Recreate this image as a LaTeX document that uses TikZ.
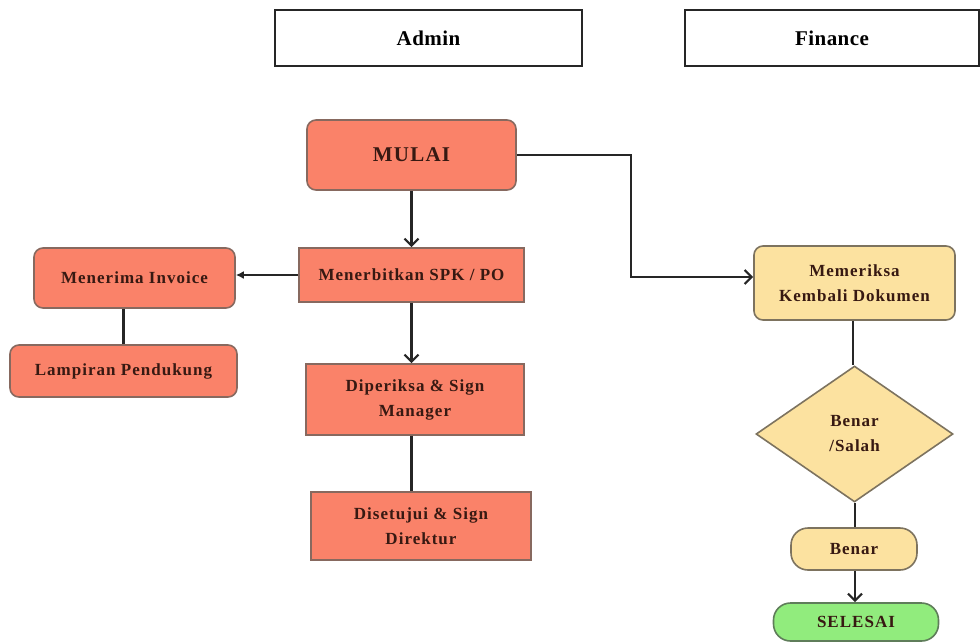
\documentclass[tikz,border=0pt]{standalone}
\usepackage{fontspec}
\setmainfont{Liberation Serif}[LetterSpace=6]
\newfontfamily\headfont{Liberation Serif}[LetterSpace=2]
\usetikzlibrary{shapes.geometric,arrows.meta}
\definecolor{salmon}{RGB}{250,130,105}
\definecolor{salmonedge}{RGB}{135,105,95}
\definecolor{sand}{RGB}{252,226,160}
\definecolor{sandedge}{RGB}{125,115,95}
\definecolor{mint}{RGB}{145,236,125}
\definecolor{mintedge}{RGB}{95,125,90}
\definecolor{ink}{RGB}{55,25,18}
\tikzset{
  every node/.style={font=\bfseries\fontsize{17}{25}\selectfont, text=ink, align=center, inner sep=0pt},
  header/.style={draw=black!85, line width=1.8pt, fill=white, text=black, font=\headfont\bfseries\fontsize{21}{24}\selectfont},
  sbox/.style={draw=salmonedge, line width=1.6pt, fill=salmon},
  srnd/.style={sbox, rounded corners=9pt},
  ybox/.style={draw=sandedge, line width=1.6pt, fill=sand, rounded corners=9pt},
  ydia/.style={draw=sandedge, line width=1.6pt, fill=sand, diamond},
  pill/.style={rounded corners=17pt, line width=1.6pt},
  link/.style={draw=black!85, line width=2.2pt},
  arr/.style={link, -{Straight Barb[length=7pt,width=14pt,line width=2.2pt]}},
  farr/.style={link, -{Latex[length=8pt,width=8pt]}}
}
\begin{document}
\begin{tikzpicture}[x=1pt,y=-1pt]
\useasboundingbox (0,0) rectangle (980,641);
% headers
\node[header, minimum width=307, minimum height=56] (admin) at (428.5,38) {Admin};
\node[header, minimum width=294, minimum height=56] (fin) at (832,38) {Finance};
% admin side
\node[srnd, minimum width=209, minimum height=70, font=\bfseries\fontsize{21}{24}\selectfont] (mulai) at (411.5,155) {MULAI};
\node[sbox, minimum width=225, minimum height=54] (spk) at (411.5,275) {Menerbitkan SPK / PO};
\node[srnd, minimum width=201, minimum height=60] (inv) at (134.5,278) {Menerima Invoice};
\node[srnd, minimum width=227, minimum height=52] (lamp) at (123.5,371) {Lampiran Pendukung};
\node[sbox, minimum width=218, minimum height=71] (mgr) at (415,399.5) {Diperiksa \& Sign\\Manager};
\node[sbox, minimum width=220, minimum height=68] (dir) at (421,526) {Disetujui \& Sign\\Direktur};
% finance side
\node[ybox, minimum width=201, minimum height=74] (cek) at (854.5,283) {Memeriksa\\Kembali Dokumen};
\node[ydia, minimum width=197, minimum height=136] (dec) at (854.5,434) {Benar\\/Salah};
\node[draw=sandedge, fill=sand, pill, minimum width=126, minimum height=42] (benar) at (854,549) {Benar};
\node[draw=mintedge, fill=mint, pill, minimum width=165, minimum height=38] (selesai) at (856,622) {SELESAI};
% connectors
\draw[arr] (mulai.south) -- (spk.north);
\draw[farr] (spk.west) -- (inv.east |- spk.west);
\draw[arr] (spk.south) -- (mgr.north -| spk.south);
\draw[link] (inv.south -| lamp.north) -- (lamp.north);
\draw[link] (mgr.south -| spk.south) -- (dir.north -| spk.south);
\draw[arr] (mulai.east) -| (631,277) -- (cek.west |- 0,277);
\draw[link] (cek.south -| 853,0) -- (dec.north -| 853,0);
\draw[link] (dec.south -| 855,0) -- (benar.north -| 855,0);
\draw[arr] (benar.south -| 855,0) -- (selesai.north -| 855,0);
\end{tikzpicture}
\end{document}
